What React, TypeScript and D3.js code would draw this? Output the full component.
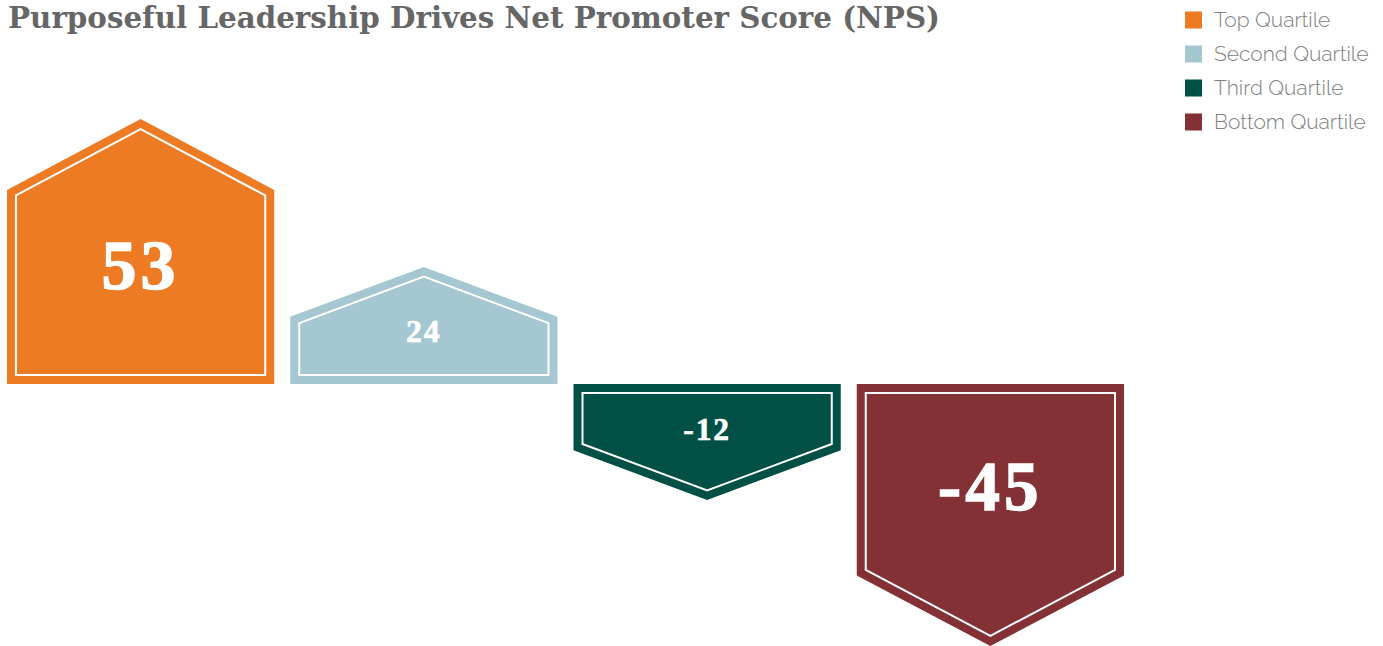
import React from "react";
import * as d3 from "d3";

const categories = ["Top Quartile", "Second Quartile", "Third Quartile", "Bottom Quartile"];
const npsValues = [53, 24, -12, -45];
const colors = ["#EC7B24", "#A4C7D2", "#005045", "#843135"];
const titleText = "Purposeful Leadership Drives Net Promoter Score (NPS)";

const W = 1383;
const H = 646;

export default function App() {
  const x = d3.scaleBand<string>().domain(categories).range([7, 1124]).paddingInner(0.0565).paddingOuter(0);
  // vertical scale as drawn in the reference (non-uniform stretch around the zero line)
  const y = d3.scaleLinear().domain([-45, -12, 0, 24, 53]).range([646, 500, 384, 267, 119]);
  const y0 = y(0);
  const pointScale = d3.scaleLinear().domain([118, 265]).range([50, 71]);
  const fontScale = d3.scaleLinear().domain([118, 265]).range([32, 70]);
  const inset = 9;

  const shapes = npsValues.map((v, i) => {
    const x0 = x(categories[i])!;
    const w = x.bandwidth();
    const x1 = x0 + w;
    const xm = x0 + w / 2;
    const yt = y(v);
    const ext = Math.abs(yt - y0);
    const s = v >= 0 ? -1 : 1; // direction away from baseline
    const ph = pointScale(ext);
    const ys = yt - s * ph;
    const outer = [
      [x0, y0],
      [x0, ys],
      [xm, yt],
      [x1, ys],
      [x1, y0],
    ];
    const m = ph / (w / 2);
    const delta = inset * Math.sqrt(1 + m * m);
    const iy0 = y0 + s * inset;
    const iys = ys - s * (delta - m * inset);
    const iyt = yt - s * delta;
    const inner = [
      [x0 + inset, iy0],
      [x0 + inset, iys],
      [xm, iyt],
      [x1 - inset, iys],
      [x1 - inset, iy0],
    ];
    const frac = v >= 0 ? 0.45 : 0.39;
    const ly = y0 + (yt - y0) * frac;
    return { v, i, outer, inner, xm, ly, fs: fontScale(ext) };
  });

  const line = (pts: number[][]) => "M" + pts.map((p) => p.join(",")).join("L") + "Z";

  const legendY = d3.scalePoint<string>().domain(categories).range([20, 122]);

  return (
    <svg
      width={W}
      height={H}
      style={{ position: "absolute", left: 0, top: 0, display: "block", background: "#fff" }}
    >
      <text
        x={8}
        y={28}
        fontFamily="'DejaVu Serif', 'Liberation Serif', serif"
        fontWeight="bold"
        fontSize={29}
        fill="#666666"
        textLength={932}
        lengthAdjust="spacingAndGlyphs"
      >
        {titleText}
      </text>
      {shapes.map((d) => (
        <g key={d.i}>
          <path d={line(d.outer)} fill={colors[d.i]} />
          <path d={line(d.inner)} fill="none" stroke="#ffffff" strokeWidth={2} />
          <text
            x={d.xm}
            y={d.ly}
            dy="0.34em"
            textAnchor="middle"
            fontFamily="'Liberation Serif', 'DejaVu Serif', serif"
            fontWeight="bold"
            fontSize={d.fs}
            letterSpacing="0.06em"
            fill="#ffffff"
            stroke="#ffffff"
            strokeWidth={d.fs / 50}
          >
            {d.v}
          </text>
        </g>
      ))}
      {categories.map((c, i) => (
        <g key={c} transform={`translate(1185,${legendY(c)})`}>
          <rect x={0} y={-8.5} width={17} height={17} fill={colors[i]} />
          <text
            x={29}
            y={0}
            dy="0.35em"
            fontFamily="Raleway, Lato, 'Open Sans', sans-serif"
            fontWeight={300}
            fontSize={21}
            fill="#808080"
          >
            {c}
          </text>
        </g>
      ))}
    </svg>
  );
}
